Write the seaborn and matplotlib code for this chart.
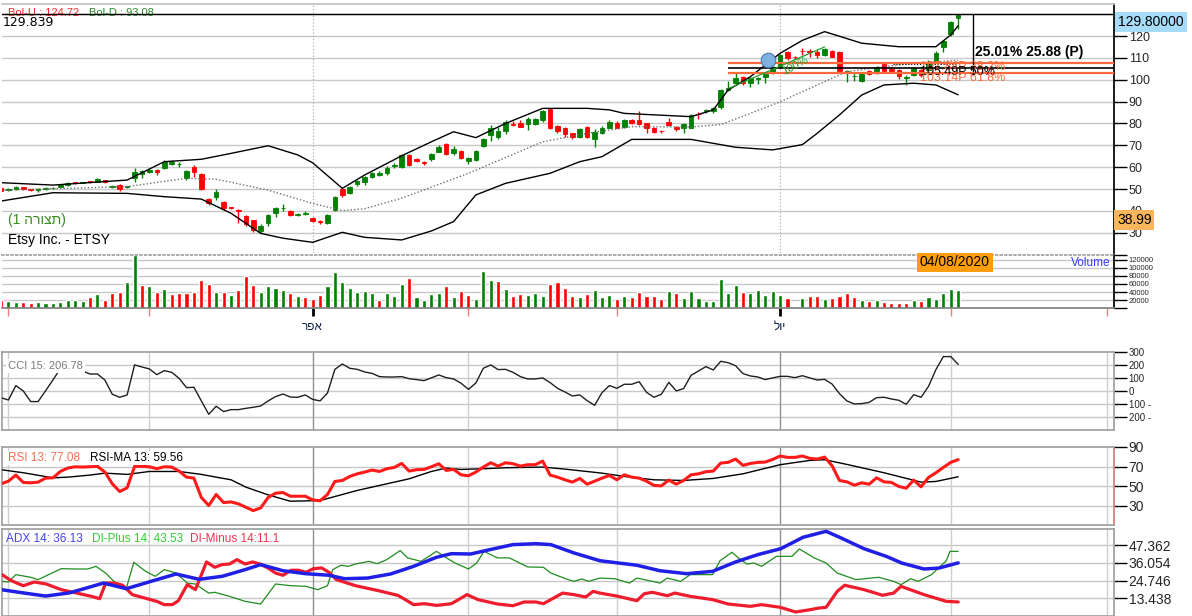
import numpy as np
import matplotlib
matplotlib.use('Agg')
import matplotlib.pyplot as plt
import seaborn as sns

# ---------------- data (bar 0 = 31/01/2020) ----------------
opens = [50.5, 49.6, 49.8, 50.8, 49.9, 49.6, 49.8, 50.3, 51.0, 51.7,
         53.1, 52.8, 53.6, 53.3, 54.0, 51.1, 52.0, 51.0, 55.1, 57.0,
         58.0, 58.7, 59.5, 61.5, 61.3, 55.0, 60.2, 56.7, 45.5, 46.2,
         44.2, 41.6, 40.4, 37.7, 35.8, 31.0, 34.6, 38.9, 41.3, 40.1,
         38.2, 38.7, 36.6, 35.2, 34.6, 40.4, 49.9, 48.3, 52.2, 53.4,
         55.6, 56.4, 57.2, 60.6, 60.2, 65.6, 63.6, 62.5, 63.6, 67.1,
         70.5, 66.6, 67.4, 62.8, 63.3, 69.8, 74.7, 73.9, 76.7, 79.6,
         80.3, 79.8, 79.8, 81.6, 86.5, 78.8, 78.1, 75.5, 73.9, 78.2,
         72.7, 75.8, 78.1, 80.3, 78.2, 81.6, 81.6, 80.0, 77.8, 76.6,
         80.5, 78.5, 77.8, 78.1, 84.4, 85.6, 85.8, 87.4, 95.3, 98.4,
         101.4, 98.3, 100.4, 101.4, 103.2, 106.0, 112.8, 110.5, 113.2, 113.0,
         112.8, 111.3, 113.3, 112.5, 103.6, 101.6, 99.4, 104.0, 102.9, 107.0,
         104.8, 104.4, 101.0, 102.2, 104.4, 104.5, 108.3, 115.1, 120.8, 128.1]
closes = [49.3, 49.8, 50.8, 49.8, 49.5, 49.8, 50.6, 50.5, 52.2, 52.6,
          52.6, 53.0, 53.0, 54.6, 53.2, 51.3, 50.2, 51.2, 57.7, 58.2,
          58.7, 58.0, 62.5, 62.5, 61.5, 58.4, 57.6, 49.9, 43.8, 48.8,
          41.2, 41.2, 39.8, 34.0, 31.3, 33.1, 38.1, 41.2, 41.5, 38.1,
          38.4, 39.0, 35.2, 35.0, 38.1, 46.5, 47.3, 50.8, 53.6, 55.6,
          57.5, 57.4, 59.8, 60.8, 65.6, 61.0, 62.6, 62.0, 66.0, 69.4,
          65.9, 68.3, 64.3, 64.3, 67.4, 72.9, 78.1, 76.5, 80.5, 79.3,
          78.5, 81.9, 81.9, 85.7, 77.8, 76.7, 75.0, 73.9, 77.5, 73.7,
          76.2, 78.1, 80.8, 78.1, 81.6, 80.3, 79.8, 78.1, 76.2, 76.4,
          79.3, 77.3, 79.8, 83.9, 84.1, 86.2, 87.2, 95.3, 96.4, 100.6,
          98.4, 100.6, 100.7, 102.6, 106.0, 111.3, 109.8, 110.3, 113.0, 112.8,
          111.3, 114.1, 110.5, 104.1, 103.8, 101.8, 102.6, 102.6, 106.0, 104.1,
          103.9, 101.7, 101.2, 105.5, 102.2, 108.3, 112.4, 117.7, 126.3, 129.6]
highs = [51.0, 50.3, 51.2, 51.0, 50.2, 50.6, 50.9, 51.0, 52.5, 53.0,
         53.3, 53.4, 53.8, 55.2, 54.2, 51.9, 52.4, 51.6, 59.8, 58.8,
         59.4, 59.2, 63.2, 63.5, 62.5, 58.8, 60.8, 57.5, 46.0, 49.8,
         44.6, 42.0, 41.0, 38.2, 36.0, 33.8, 38.8, 42.0, 43.3, 40.5,
         39.0, 39.8, 37.0, 36.0, 38.8, 46.8, 50.5, 51.3, 54.0, 56.0,
         58.0, 58.2, 60.5, 61.8, 66.0, 66.0, 64.0, 62.8, 66.4, 70.0,
         71.0, 69.5, 67.8, 64.8, 68.0, 73.2, 79.5, 78.5, 81.5, 81.3,
         81.5, 82.8, 82.3, 86.2, 87.2, 79.3, 78.3, 75.8, 78.0, 78.6,
         77.6, 79.0, 81.4, 81.0, 82.0, 82.0, 85.7, 80.4, 78.2, 77.2,
         82.4, 79.0, 80.4, 84.4, 85.3, 86.8, 87.6, 95.8, 99.3, 103.0,
         101.8, 101.4, 101.3, 103.0, 106.4, 111.8, 113.2, 111.0, 114.5, 114.2,
         113.5, 114.6, 113.6, 113.0, 104.4, 103.2, 103.2, 104.6, 106.5, 107.8,
         105.6, 104.8, 102.0, 106.0, 104.8, 108.8, 113.0, 118.2, 126.8, 129.8]
lows = [49.0, 49.2, 49.6, 49.5, 49.2, 48.8, 49.5, 50.0, 50.7, 51.5,
        52.3, 52.6, 52.7, 53.0, 52.8, 50.6, 49.2, 50.3, 53.3, 55.0,
        57.4, 56.4, 59.0, 61.0, 60.2, 54.0, 55.6, 49.5, 42.5, 45.0,
        40.5, 40.8, 34.5, 33.0, 30.4, 29.8, 33.0, 37.0, 40.0, 37.8,
        37.5, 38.0, 34.8, 34.0, 34.0, 40.0, 46.5, 47.5, 51.5, 51.8,
        55.0, 55.8, 56.6, 59.5, 59.8, 60.5, 62.2, 61.0, 63.0, 66.8,
        65.5, 65.5, 63.8, 61.3, 62.8, 69.4, 72.0, 73.0, 75.0, 78.8,
        78.2, 77.0, 79.4, 80.5, 77.5, 75.6, 73.8, 72.8, 73.2, 73.2,
        69.4, 75.2, 77.8, 77.8, 77.8, 79.8, 79.5, 75.8, 75.6, 75.8,
        79.0, 76.4, 75.8, 77.8, 82.0, 84.8, 84.6, 86.6, 94.8, 97.6,
        97.4, 96.8, 98.2, 98.6, 102.6, 105.6, 109.2, 109.6, 111.5, 110.6,
        109.8, 110.8, 110.2, 103.8, 99.1, 99.4, 98.8, 102.0, 102.4, 103.6,
        103.4, 100.4, 97.5, 101.6, 101.2, 104.0, 107.8, 112.8, 120.2, 123.0]

# volume, 0 on the 03/07 holiday bar; colour = close vs previous close
volume = [20800, 18300, 15800, 15800, 13300, 15800, 13300, 13300, 15800, 20800,
          20800, 18300, 28300, 35800, 20800, 38300, 40800, 65800, 131000, 58300,
          55800, 40800, 48300, 35800, 38300, 38300, 40800, 70800, 60800, 40800,
          40800, 33300, 45800, 80800, 58300, 40800, 55800, 50800, 45800, 38300,
          30800, 28300, 23300, 33300, 55800, 90800, 65800, 50800, 40800, 43300,
          38300, 20800, 38300, 30800, 60800, 75800, 28300, 20800, 35800, 38300,
          55800, 28300, 43300, 33300, 23300, 93300, 70800, 68300, 48300, 30800,
          35800, 33300, 38300, 30800, 60800, 65800, 50800, 30800, 28300, 35800,
          45800, 28300, 33300, 23300, 30800, 28300, 40800, 30800, 30800, 23300,
          43300, 38300, 25800, 43300, 25800, 18300, 18300, 73300, 38300, 58300,
          40800, 38300, 45800, 33300, 43300, 33300, 25800, 0, 25800, 30800,
          30800, 23300, 25800, 30800, 38300, 28300, 20800, 18300, 20800, 15800,
          13300, 13300, 13300, 20800, 18300, 28300, 23300, 38300, 48300, 45800]
volume_dir = ("rggrrggggg" "ggrgrrrggr" "grgrrrrrrg" "rgrrrggggr" "grrrgggggg"
              "grgggrgggg" "rgrrgggrgr" "rgggrrrrgr" "gggrgrrrrr" "grgggggggg"
              "rgggggrggr" "rgrrrrgrgr" "rrrgrggggg")

cci = [-49, -67, 44, 3, -79, -79, 3, 87, 175, 190,
       180, 156, 133, 133, 87, -23, -46, -28, 203, 187,
       172, 128, 159, 146, 100, 28, 31, -74, -177, -115,
       -156, -141, -141, -131, -123, -113, -74, -41, -21, -44,
       -46, -28, -62, -74, -13, 169, 210, 177, 169, 149,
       138, 113, 110, 110, 113, 97, 90, 82, 103, 126,
       105, 95, 62, 15, 64, 177, 203, 167, 169, 146,
       113, 95, 95, 103, 67, 23, -5, -36, -28, -72,
       -108, -10, 44, 23, 54, 54, 74, -8, -46, -23,
       69, 3, 21, 123, 156, 190, 164, 231, 220, 197,
       136, 118, 110, 90, 103, 115, 115, 105, 120, 103,
       87, 92, 56, -18, -74, -97, -95, -85, -49, -46,
       -59, -69, -100, -26, -46, 38, 167, 267, 267, 207]

rsi = [52.4, 55.1, 61.3, 53.8, 53.4, 54.1, 58.2, 58.5, 65.0, 68.5,
       69.8, 69.5, 69.8, 70.2, 64.4, 52.4, 44.5, 48.3, 70.2, 70.2,
       69.8, 67.8, 69.8, 69.5, 65.4, 59.2, 58.2, 38.4, 30.2, 41.5,
       33.2, 33.9, 31.9, 28.5, 25.0, 27.8, 38.4, 42.8, 43.5, 39.7,
       39.7, 39.7, 36.0, 35.0, 41.5, 54.8, 55.8, 59.9, 62.6, 64.4,
       66.4, 65.0, 67.8, 69.1, 73.2, 65.4, 66.8, 67.1, 69.8, 72.9,
       66.1, 67.1, 61.6, 60.6, 64.4, 69.5, 73.9, 70.5, 73.9, 72.9,
       70.5, 71.9, 71.9, 75.6, 61.3, 59.2, 56.5, 54.1, 57.9, 52.0,
       55.1, 58.2, 60.9, 56.5, 61.6, 59.2, 58.2, 55.1, 50.7, 50.3,
       56.2, 52.0, 55.8, 61.6, 62.6, 64.7, 65.4, 73.6, 74.3, 77.7,
       71.2, 73.2, 74.3, 74.6, 77.3, 80.8, 79.4, 79.4, 80.8, 78.4,
       77.7, 79.7, 70.9, 55.8, 54.4, 51.0, 53.4, 52.0, 58.5, 54.4,
       53.8, 49.7, 47.9, 56.2, 49.3, 58.9, 63.7, 69.1, 74.3, 77.1]

# smooth lines read at points along the curve (bar position, value)
rsi_ma_x = [0, 3, 7, 9, 12, 14, 17, 20, 24, 27, 29, 31, 33, 36, 39, 43, 45, 48, 51, 55,
            58, 60, 62, 65, 68, 73, 76, 81, 84, 88, 92, 96, 100, 105, 109, 111, 114, 119, 124, 126, 129]
rsi_ma = [66.8, 63.7, 58.5, 59.2, 61.3, 63.3, 62.0, 65.0, 65.0, 62.0, 59.2, 56.5, 49.0, 41.1, 34.6,
          35.3, 39.4, 45.6, 50.7, 57.5, 65.0, 68.5, 67.1, 67.8, 68.8, 69.5, 67.4, 63.3, 59.9, 56.5,
          55.8, 57.9, 62.6, 71.9, 76.3, 77.0, 72.2, 63.7, 54.1, 54.8, 59.6]

adx_x = [0, 3, 6, 9.2, 11.2, 13.8, 16.9, 20.5, 23.6, 26.7, 29.8, 32.9, 35, 38, 41.1, 44.2, 46.3,
         49.4, 52.5, 55.6, 58.7, 60.7, 63.3, 65.9, 69, 72.1, 74.1, 77.2, 80.7, 85.7, 88.8, 92.4,
         95.9, 99, 102, 105.1, 108.1, 111.2, 113.2, 116.3, 119.3, 121.4, 124.4, 126.4, 129]
adx = [19.0, 16.9, 14.9, 16.9, 19.6, 23.2, 19.6, 24.7, 29.0, 25.6, 27.5, 31.8, 35.0, 31.1, 29.2,
       28.2, 26.0, 26.4, 29.0, 33.9, 39.7, 42.0, 41.8, 44.6, 47.8, 48.4, 47.8, 42.5, 37.5, 34.6,
       31.1, 29.2, 30.7, 36.7, 41.4, 45.2, 52.5, 56.3, 52.1, 45.2, 40.3, 36.0, 32.2, 32.8, 36.1]

di_plus_x = [0, 1, 2, 4, 5, 8.1, 10.2, 11.7, 12.8, 14.1, 15.9, 16.9, 17.9, 19.5, 20.8, 22, 23.6,
             25.1, 26.2, 28, 28.8, 30.8, 32.9, 35, 37, 39.1, 41.1, 42.7, 44, 44.7, 45.8, 46.8,
             47.8, 49.6, 50.7, 52, 53.8, 54.8, 56.6, 58.7, 59.7, 61.2, 63, 64.1, 65.1, 66.9,
             68.5, 71, 73.1, 74.1, 76.2, 77.2, 78.3, 79.2, 80.7, 82.7, 84.7, 85.7, 87.8, 88.8,
             89.8, 91.6, 92.9, 94.9, 95.9, 96.9, 98.5, 99.5, 100.5, 101.5, 102.5, 104.5, 106.6,
             107.6, 109.6, 111.2, 112.7, 115.2, 118.3, 120.3, 121.3, 122.6, 123.6, 125.4, 127.4,
             127.9, 129]
di_plus = [24.3, 23.9, 28.6, 26.9, 25.4, 32.4, 32.2, 32.2, 33.9, 29.6, 21.1, 20.0, 36.5, 30.7,
           27.5, 31.8, 29.6, 23.2, 22.6, 16.8, 17.3, 14.7, 11.5, 9.8, 22.6, 21.5, 21.1, 19.0,
           21.5, 31.8, 34.6, 33.9, 35.4, 37.1, 35.6, 38.2, 44.0, 39.3, 37.1, 43.5, 40.3, 36.0,
           32.2, 36.0, 43.5, 39.3, 39.3, 33.5, 33.3, 29.6, 25.8, 24.3, 25.8, 24.3, 26.4, 26.0,
           23.2, 26.4, 24.3, 23.2, 26.4, 24.3, 28.6, 28.6, 28.6, 37.5, 42.9, 38.8, 35.4, 36.0,
           33.9, 40.3, 40.3, 45.0, 39.3, 36.0, 29.6, 25.4, 26.9, 24.3, 22.2, 26.0, 24.3, 28.6,
           37.5, 43.5, 43.5]

di_minus_x = [0, 1.4, 3, 4.5, 6.1, 8.1, 10.2, 12.2, 13.3, 14.1, 15.3, 16.4, 17.7, 19, 21, 22,
              23.1, 23.9, 25.1, 26.2, 27.7, 28.8, 29.8, 30.8, 31.8, 32.9, 33.9, 34.9, 36, 37,
              38, 39.1, 40.1, 41.1, 42.1, 43.2, 44.2, 45.2, 47.8, 50.9, 53.5, 54.5, 55.6, 57.1,
              58.7, 60.7, 62.8, 64.3, 66.9, 69, 70.5, 72.1, 73.1, 75.7, 77.2, 78.8, 79.8, 80.7,
              83.2, 85.7, 86.7, 87.8, 89.8, 90.8, 92.9, 95.9, 98, 101, 102.5, 105, 107.1, 109.1,
              110.2, 111.2, 112.7, 113.7, 116.3, 118.8, 120.3, 121.3, 124.4, 127.4, 129]
di_minus = [29.0, 24.7, 21.5, 23.9, 22.6, 19.0, 16.8, 14.7, 13.2, 23.2, 23.2, 21.8, 15.8, 14.1,
            11.5, 9.4, 9.4, 11.9, 22.2, 19.0, 36.7, 33.3, 35.0, 35.4, 38.2, 35.4, 36.7, 35.4,
            32.8, 29.6, 28.2, 31.4, 31.4, 30.1, 32.4, 32.9, 30.1, 25.4, 21.5, 18.3, 15.3, 12.6,
            9.4, 10.0, 8.9, 10.0, 15.8, 12.6, 9.8, 8.7, 11.1, 11.1, 10.0, 16.8, 15.8, 14.3, 17.9,
            16.8, 14.7, 11.9, 16.4, 17.3, 15.1, 16.8, 14.7, 12.6, 9.8, 8.3, 9.4, 7.7, 4.7, 6.2,
            7.2, 7.7, 17.9, 21.8, 19.0, 15.4, 16.8, 21.1, 15.8, 11.5, 11.1]

bol_up_x = [0, 7, 17, 22, 27, 31, 36, 40, 42, 46, 49, 54, 58, 61, 64, 68, 73, 79, 82, 84, 93,
            96, 98, 101, 105, 108, 111, 116, 121, 126, 128, 129]
bol_up = [52.9, 51.8, 54.1, 62.5, 63.6, 66.3, 69.8, 65.6, 62.0, 50.3, 56.4, 65.2, 71.6, 76.2,
          73.5, 80.0, 86.9, 86.9, 86.2, 84.6, 83.1, 86.2, 95.3, 101.4, 112.1, 118.0, 122.0,
          116.7, 115.1, 115.1, 120.5, 124.7]
bol_mid_x = [0, 17, 25, 29, 36, 42, 46, 49, 54, 63, 73, 79, 85, 93, 97, 101, 105, 110, 114,
             119, 123, 129]
bol_mid = [49.5, 51.1, 54.9, 54.5, 49.5, 43.4, 40.1, 41.0, 45.8, 57.2, 71.6, 75.5, 78.5, 78.4,
           79.5, 84.6, 89.9, 97.6, 103.7, 106.0, 107.5, 108.9]
bol_dn_x = [0, 7, 17, 22, 27, 31, 35, 38, 42, 46, 49, 54, 58, 61, 64, 68, 74, 78, 81, 85, 93,
            99, 104, 108, 110, 113, 116, 119, 123, 126, 129]
bol_dn = [44.5, 48.3, 48.0, 46.5, 45.4, 38.9, 29.7, 27.5, 25.6, 30.2, 27.9, 26.7, 30.8, 35.1,
          47.3, 52.6, 57.2, 62.5, 64.8, 72.7, 72.7, 69.1, 67.9, 70.3, 75.5, 83.9, 93.0, 97.6,
          98.4, 97.6, 93.1]

fib_levels = [107.84, 105.49, 103.14]
fib_labels = ["107.84P 38.2%", "105.49P 50%", "103.14P 61.8%"]
month_starts = [1, 20, 42, 63, 83, 105, 128, 149]
quarter_starts = [42, 105]
quarter_names = ["אפר", "יול"]

# ---------------- figure ----------------
sns.set_theme(style="white")
plt.rcParams['font.family'] = ['Liberation Sans', 'DejaVu Sans']

W, H = 1192, 616
fig = plt.figure(figsize=(W / 100, H / 100), dpi=100)
XLIM = (0.135, 150.0)
GRID = '#c8c8c8'


def panel(y0, y1, x0=2, x1=1114):
    ax = fig.add_axes([x0 / W, 1 - y1 / H, (x1 - x0) / W, (y1 - y0) / H])
    ax.set_xlim(*XLIM)
    ax.set_xticks([])
    ax.yaxis.tick_right()
    ax.tick_params(axis='y', direction='out', length=9, width=1, color='black', pad=1.5,
                   left=False, right=True)
    for s in ax.spines.values():
        s.set_color('#a0a0a0')
    return ax


def ftext(ax, x, y, s, **kw):
    kw.setdefault('va', 'center')
    return ax.text(x / W, 1 - y / H, s, transform=fig.transFigure, **kw)


idx = np.arange(len(closes))
o, c = np.array(opens), np.array(closes)
up = c >= o
ccol = np.where(up, '#008000', '#ff0000')

# ---- price panel ----
ax = panel(4, 253)
ax.set_ylim(20.73, 134.64)
for lv in range(30, 131, 10):
    ax.axhline(lv, color=GRID, lw=1, zorder=0)
for q in quarter_starts:
    ax.axvline(q, color='#a0a0a0', lw=0.8, ls=(0, (1, 2)), zorder=0)
ax.vlines(idx, lows, highs, colors=ccol, lw=1, zorder=2)
ax.bar(idx, np.abs(c - o), bottom=np.minimum(o, c), width=0.62, color=ccol,
       edgecolor=ccol, linewidth=0.6, zorder=3)
sns.lineplot(x=bol_up_x, y=bol_up, ax=ax, color='black', lw=1, zorder=4)
sns.lineplot(x=bol_dn_x, y=bol_dn, ax=ax, color='black', lw=1, zorder=4)
sns.lineplot(x=bol_mid_x, y=bol_mid, ax=ax, color='#707070', lw=1, ls=(0, (1, 1.5)), zorder=4)
ax.axhline(129.839, color='black', lw=1, zorder=5)
ax.set_yticks(range(30, 121, 10))
ax.tick_params(axis='y', labelsize=9)
ax.spines['left'].set_visible(False)
ax.spines['bottom'].set_visible(False)
ax.spines['right'].set_color('black')
ax.spines['top'].set_color('#c0c0c0')

# fibonacci lines and drawing tools
ax.hlines(fib_levels, 98, XLIM[1], colors=['#ff6a3d', 'black', '#ff6a3d'], lw=[1.6, 1.2, 1.6], zorder=5)
ax.plot([98.2, 111], [96.2, 115], color='#2a9a2a', lw=0.9, zorder=5)
ax.plot([120.2, 128.8], [107.2, 107.2], color='black', lw=0.8, ls=':', zorder=5)
ax.vlines(131, 102.5, 129.84, color='black', lw=1, zorder=5)
ax.scatter([103.4], [109.0], s=110, color='#7fb2e0', edgecolor='#4a78b0', lw=0.8, zorder=6)
ftext(ax, 780, 66, "100%", color='#2a9a2a', fontsize=8, rotation=28, ha='left', zorder=6)
ftext(ax, 920, 67, fib_labels[0], color='#ff6a3d', fontsize=9, zorder=6)
ftext(ax, 920, 72, fib_labels[1], color='black', fontsize=9, zorder=6)
ftext(ax, 920, 78, fib_labels[2], color='#ff6a3d', fontsize=9, zorder=6)
ftext(ax, 975, 52, "25.01% 25.88 (P)", color='black', fontsize=10, fontweight='bold', zorder=6)

ftext(ax, 8, 13, "Bol-U : 124.72", color='#ff2a2a', fontsize=8, zorder=1)
ftext(ax, 89, 13, "Bol-D : 93.08", color='#2a8a2a', fontsize=8, zorder=1)
ftext(ax, 3, 23, "129.839", color='black', fontsize=9, family='DejaVu Sans', zorder=6)
ftext(ax, 8, 220, "(1 " + "תצורה"[::-1] + ")", color='#3a8a20', fontsize=10, zorder=6)
ftext(ax, 8, 240, "Etsy Inc. - ETSY", color='black', fontsize=10, zorder=6)
ftext(ax, 1118, 22, "129.80000", color='black', fontsize=10, zorder=6,
      bbox=dict(facecolor='#a6dcf7', edgecolor='none', pad=2.5))
ftext(ax, 1117, 220, "38.99", color='black', fontsize=10, zorder=6,
      bbox=dict(facecolor='#f8b65c', edgecolor='none', pad=2))

# ---- volume panel ----
vax = panel(254.7, 308.3)
vax.set_ylim(0, 132300)
for lv in range(20000, 120001, 20000):
    vax.axhline(lv, color=GRID, lw=1, zorder=0)
vcol = ['#008000' if d == 'g' else '#ff0000' for d in volume_dir]
vax.bar(idx, volume, width=0.55, color=vcol, zorder=2)
vax.set_yticks(list(range(0, 120001, 20000)) + [132300])
vax.set_yticklabels([''] + [str(v) for v in range(20000, 120001, 20000)] + [''])
vax.tick_params(axis='y', labelsize=5.5)
vax.spines['left'].set_visible(False)
vax.spines['right'].set_color('black')
vax.spines['top'].set_linestyle(':')
vax.spines['bottom'].set_color('#808080')
vax.set_xticks(quarter_starts)
vax.set_xticklabels([n[::-1] for n in quarter_names])
vax.set_xticks([m for m in month_starts if m not in quarter_starts], minor=True)
vax.tick_params(axis='x', which='major', bottom=True, length=6, width=2, color='black',
                labelsize=8.5, pad=3, labelcolor='#10204a')
vax.tick_params(axis='x', which='minor', bottom=True, length=6, width=1, color='#f08080')
ftext(vax, 920, 262.5, "04/08/2020", color='black', fontsize=10, zorder=6,
      bbox=dict(facecolor='#ff9d0a', edgecolor='none', pad=2))
ftext(vax, 1071, 263, "Volume", color='#3a3aff', fontsize=8.5, zorder=6)


def month_lines(a):
    for m in month_starts:
        a.axvline(m, color='#909090' if m in quarter_starts else '#cfcfcf', lw=1, zorder=0)


# ---- CCI ----
cax = panel(352.3, 430.3)
cax.set_ylim(-300, 300)
for lv in range(-200, 201, 100):
    cax.axhline(lv, color=GRID, lw=1, zorder=0)
month_lines(cax)
sns.lineplot(x=idx, y=cci, ax=cax, color='#202020', lw=1, zorder=3)
cax.set_yticks([-200, -100, 0, 100, 200, 300])
cax.set_yticklabels(['200 -', '100 -', '0', '100', '200', '300'])
cax.tick_params(axis='y', labelsize=7)
ftext(cax, 8, 366, "CCI 15: 206.78", color='#7a7a7a', fontsize=8, zorder=6,
      bbox=dict(facecolor='white', edgecolor='none', pad=1.5))

# ---- RSI ----
rax = panel(447, 525.3)
rax.set_ylim(10, 90)
for lv in (30, 50, 70):
    rax.axhline(lv, color=GRID, lw=1, zorder=0)
month_lines(rax)
sns.lineplot(x=rsi_ma_x, y=rsi_ma, ax=rax, color='black', lw=1, zorder=3)
sns.lineplot(x=idx, y=rsi, ax=rax, color='#ff1a1a', lw=2.2, zorder=4)
rax.set_yticks([30, 50, 70, 90])
rax.tick_params(axis='y', labelsize=10)
rax.spines['right'].set_color('#e07878')
ftext(rax, 8, 458, "RSI 13: 77.08", color='#f2704f', fontsize=8.5, zorder=6,
      bbox=dict(facecolor='white', edgecolor='none', pad=1))
ftext(rax, 90, 458, "RSI-MA 13: 59.56", color='black', fontsize=8.5, zorder=6,
      bbox=dict(facecolor='white', edgecolor='none', pad=1))

# ---- ADX ----
dax = panel(529.3, 616)
dax.set_ylim(2.13, 57.6)
adx_ticks = [13.438, 24.746, 36.054, 47.362]
for lv in adx_ticks:
    dax.axhline(lv, color=GRID, lw=1, zorder=0)
month_lines(dax)
sns.lineplot(x=di_plus_x, y=di_plus, ax=dax, color='#1e8c1e', lw=0.9, zorder=3)
sns.lineplot(x=di_minus_x, y=di_minus, ax=dax, color='#ee1c2c', lw=2.3, zorder=4)
sns.lineplot(x=adx_x, y=adx, ax=dax, color='#1f1fe6', lw=2.5, zorder=5)
dax.set_yticks(adx_ticks)
dax.set_yticklabels(['13.438', '24.746', '36.054', '47.362'])
dax.tick_params(axis='y', labelsize=10)
ftext(dax, 6, 539, "ADX 14: 36.13", color='#4444ee', fontsize=8.5, zorder=6)
ftext(dax, 92, 539, "DI-Plus 14: 43.53", color='#33cc33', fontsize=8.5, zorder=6)
ftext(dax, 190, 539, "DI-Minus 14:11.1", color='#ee3350', fontsize=8.5, zorder=6)

for a in (ax, vax, cax, rax, dax):
    a.set_xlabel('')
    a.set_ylabel('')
    leg = a.get_legend()
    if leg is not None:
        leg.remove()

fig.savefig('out.png', dpi=100, facecolor='white')
